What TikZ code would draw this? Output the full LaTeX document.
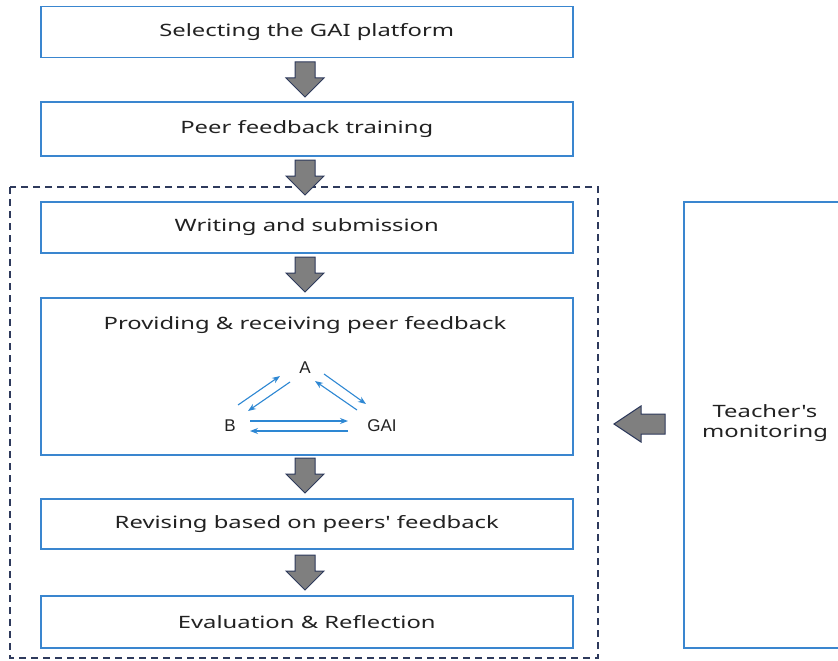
\documentclass[tikz,border=0pt]{standalone}
\usepackage{fontspec}
\newfontfamily\stepfont{Noto Sans}[FakeStretch=1.4]
\newfontfamily\abcfont{Liberation Sans}
\usetikzlibrary{arrows.meta}
\definecolor{boxblue}{HTML}{3A86CF}
\definecolor{navy}{HTML}{2E3A5C}
\definecolor{arrgray}{HTML}{7F7F7F}
\definecolor{txt}{HTML}{222222}
\definecolor{linkblue}{HTML}{2D87D3}
\tikzset{
  stepbox/.style={draw=boxblue, line width=1.5pt, fill=white},
  steptext/.style={text=txt, font=\stepfont\fontsize{17}{20}\selectfont, inner sep=0pt},
  downarrow/.style={fill=arrgray, draw=navy, line width=1pt, line join=miter},
  link/.style={draw=linkblue, line width=1.1pt, -{Stealth[length=8pt,width=6pt]}},
  letter/.style={text=txt, font=\abcfont\fontsize{17}{20}\selectfont, inner sep=1pt}
}
\newcommand{\downarr}[2]{% x, ytop
  \path[downarrow] (#1-10,#2) -- (#1+10,#2) -- (#1+10,#2+16) -- (#1+19,#2+16) -- (#1,#2+35) -- (#1-19,#2+16) -- (#1-10,#2+16) -- cycle;
}
\begin{document}
\begin{tikzpicture}[x=1pt,y=-1pt]
\useasboundingbox (0,0) rectangle (838,661);
\fill[white] (0,0) rectangle (838,661);
% dashed frame
\draw[navy, line width=1.2pt, dash pattern=on 7pt off 5pt] (10,187) rectangle (598,658);
% step boxes
\node[stepbox, minimum width=532pt, minimum height=51pt, anchor=north west] (s1) at (40,6) {};
\node[steptext] at (s1.center) {Selecting the GAI platform};
\node[stepbox, minimum width=532pt, minimum height=54pt, anchor=north west] (s2) at (40,101) {};
\node[steptext] at (s2.center) {Peer feedback training};
\node[stepbox, minimum width=532pt, minimum height=51pt, anchor=north west] (s3) at (40,201) {};
\node[steptext] at (s3.center) {Writing and submission};
\node[stepbox, minimum width=532pt, minimum height=157pt, anchor=north west] (s4) at (40,297) {};
\node[steptext] (s4t) at (305,325) {Providing \& receiving peer feedback};
\node[stepbox, minimum width=532pt, minimum height=50pt, anchor=north west] (s5) at (40,498) {};
\node[steptext] at (s5.center) {Revising based on peers' feedback};
\node[stepbox, minimum width=532pt, minimum height=52pt, anchor=north west] (s6) at (40,595) {};
\node[steptext] at (s6.center) {Evaluation \& Reflection};
% teacher box
\node[stepbox, minimum width=170pt, minimum height=446pt, anchor=north west] (t) at (683,201) {};
\node[steptext, align=center] (tt) at (765,423) {Teacher's\\monitoring};
% down arrows
\downarr{305}{62}
\downarr{305}{160}
\downarr{305}{257}
\downarr{305}{458}
\downarr{305}{555}
% left arrow
\path[downarrow] (665,414) -- (665,434) -- (641,434) -- (641,442) -- (614,424) -- (641,406) -- (641,414) -- cycle;
% triangle
\node[letter] (A) at (305,368) {A};
\node[letter] (B) at (230,426) {B};
\node[letter] (G) at (382,426) {GAI};
\draw[link] (238,405) -- (280,376);
\draw[link] (290,382) -- (248,411);
\draw[link] (324,374) -- (366,404);
\draw[link] (357,410) -- (315,381);
\draw[link] (250,421) -- (348,421);
\draw[link] (348,431) -- (250,431);
\end{tikzpicture}
\end{document}
